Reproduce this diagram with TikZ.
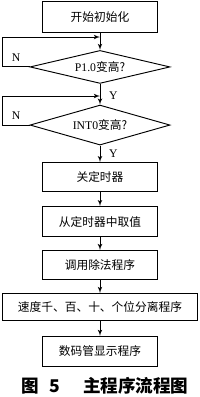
\documentclass[tikz,border=0pt]{standalone}
\usepackage{fontspec}
\setmainfont{Liberation Serif}
\newfontfamily\cjk{Noto Sans CJK SC}
\usetikzlibrary{shapes.geometric, arrows, positioning}

\begin{document}
\begin{tikzpicture}[node distance=0.5cm, auto,
        procbox/.style={rectangle, draw=black, line width=0.8pt, minimum width=3.45cm, minimum height=0.9cm, inner sep=0pt, font=\cjk},
        widebox/.style={rectangle, draw=black, line width=0.8pt, minimum width=5.86cm, minimum height=0.81cm, inner sep=0pt, font=\cjk},
        testbox/.style={diamond, draw=black, line width=0.8pt, aspect=4, minimum width=4.2cm, inner sep=0pt},
        line/.style={draw=black, line width=0.8pt, -latex'},
        yn/.style={font=\normalsize}]
        \useasboundingbox (0,0) rectangle (6,-11.91);

        \node [procbox, minimum height=0.93cm] (init) at (3,-0.5) {开始初始化};
        \node [testbox, minimum height=0.99cm, below=0.52cm of init] (p10) {P1.0{\cjk 变高?}};
        \node [testbox, minimum height=1.2cm, below=0.62cm of p10] (int0) {INT0{\cjk 变高?}};
        \node [procbox, minimum height=0.87cm, below=0.5cm of int0] (stop) {关定时器};
        \node [procbox, below=0.42cm of stop] (fetch) {从定时器中取值};
        \node [procbox, minimum height=0.87cm, below=0.39cm of fetch] (divide) {调用除法程序};
        \node [widebox, below=0.39cm of divide] (split) {速度千、百、十、个位分离程序};
        \node [procbox, below=0.45cm of split] (show) {数码管显示程序};
        \node [font=\cjk\bfseries\fontsize{15}{15}\selectfont] (title) at (3.15,-11.56) {图\hspace{0.6em}5\hspace{1.3em}主程序流程图};

        \coordinate (loopa) at (3,-1.11);
        \coordinate (loopb) at (3,-2.88);

        % main flow
        \path [line] (init) -- (p10);
        \path [line] (p10) -- node [yn, right=4pt, pos=0.55] {Y} (int0);
        \path [line] (int0) -- node [yn, right=4pt] {Y} (stop);
        \path [line] (stop) -- (fetch);
        \path [line] (fetch) -- (divide);
        \path [line] (divide) -- (split);
        \path [line] (split) -- (show);

        % wait loops
        \path [line] (p10.west) -- node [yn, above=1pt] {N} ++(-0.81,0) |- (loopa);
        \path [line] (int0.west) -- node [yn, above=1pt] {N} ++(-0.81,0) |- (loopb);
    \end{tikzpicture}
\end{document}
